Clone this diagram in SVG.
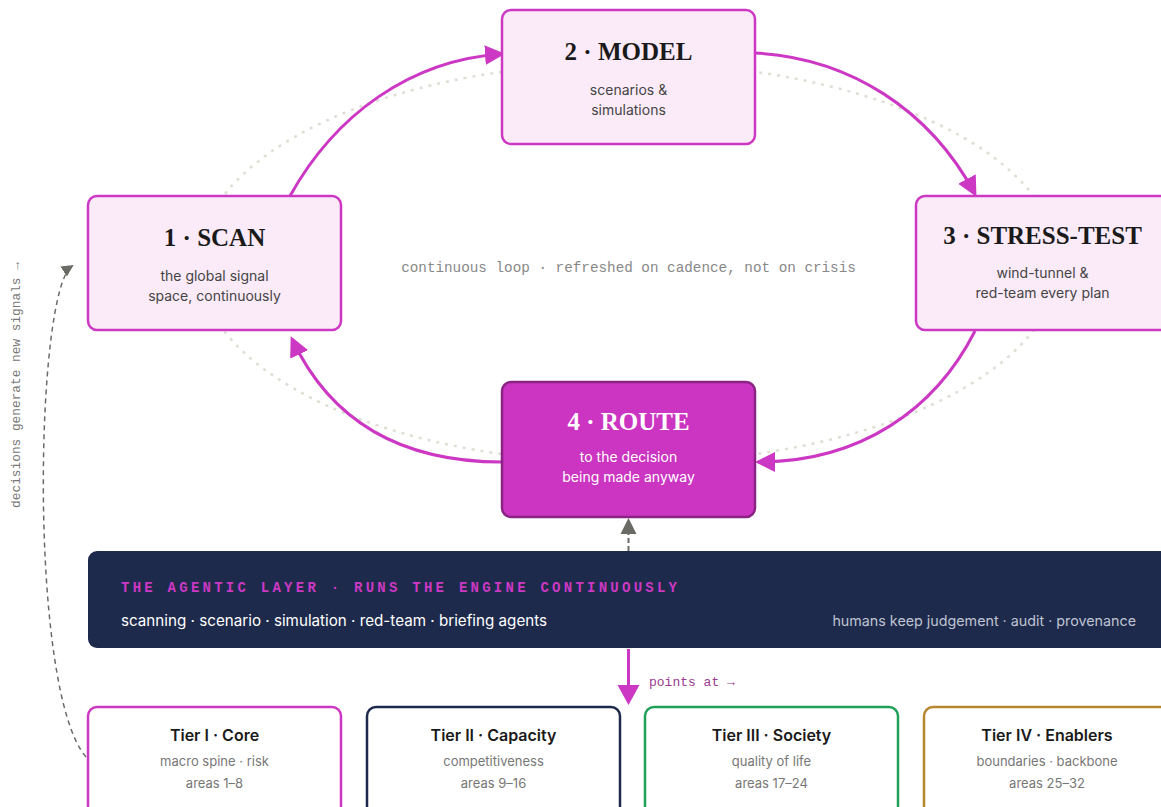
<svg xmlns="http://www.w3.org/2000/svg" width="1161" height="807" viewBox="0 0 1161 807">
<style>
.box{fill:#fbebf8;stroke:#cc38c4;stroke-width:2.5}
.ttl{font-family:"Liberation Serif","DejaVu Serif",serif;font-weight:bold;font-size:25px;fill:#1a1a1a;text-anchor:middle}
.sub{font-family:Inter,"Liberation Sans",sans-serif;font-size:14px;fill:#444;text-anchor:middle}
.tier{fill:#fff;stroke-width:2.5}
.tt{font-family:Inter,"Liberation Sans",sans-serif;font-weight:600;font-size:16px;fill:#1a1a1a;text-anchor:middle}
.ts{font-family:Inter,"Liberation Sans",sans-serif;font-size:13px;fill:#777;text-anchor:middle}
.mono{font-family:"Liberation Mono","DejaVu Sans Mono",monospace}
.arc{fill:none;stroke:#cc38c4;stroke-width:3}
</style>
<defs>
<marker id="ah" markerUnits="userSpaceOnUse" markerWidth="22" markerHeight="22" refX="17" refY="10" orient="auto" viewBox="0 0 22 22"><path d="M0,0 L20,10 L0,20 z" fill="#cc38c4"/></marker>
<marker id="ahg" markerUnits="userSpaceOnUse" markerWidth="14" markerHeight="14" refX="10" refY="6" orient="auto" viewBox="0 0 14 14"><path d="M0,0 L12,6 L0,12 z" fill="#6b6b66"/></marker>
</defs>
<ellipse cx="628.5" cy="263" rx="430" ry="200" fill="none" stroke="#e0ddd5" stroke-width="2.5" stroke-dasharray="3 6"/>
<g id="connectors">
<path class="arc" d="M290,196 C335,115 410,60 502,54" marker-end="url(#ah)"/>
<path class="arc" d="M755,53 C850,58 930,110 975,194" marker-end="url(#ah)"/>
<path class="arc" d="M975,331 C935,410 860,462 758,462" marker-end="url(#ah)"/>
<path class="arc" d="M502,462 C400,462 330,420 292,339" marker-end="url(#ah)"/>
<path d="M86,757 C28,690 35,290 72,266" fill="none" stroke="#6b6b66" stroke-width="1.5" stroke-dasharray="5 4" marker-end="url(#ahg)"/>
<line x1="628.5" y1="551" x2="628.5" y2="534" stroke="#6b6b66" stroke-width="2" stroke-dasharray="5 3"/>
<path d="M620.5,534 L628.5,518 L636.5,534 z" fill="#6b6b66"/>
<line x1="628.5" y1="649" x2="628.5" y2="688" stroke="#cc38c4" stroke-width="3"/>
<path d="M617.5,685 L628.5,705 L639.5,685 z" fill="#cc38c4"/>
</g>
<text class="mono" x="20" y="385" transform="rotate(-90 20 385)" text-anchor="middle" font-size="12.8" fill="#777">decisions generate new signals →</text>
<text class="mono" x="628.5" y="272" text-anchor="middle" font-size="14.3" fill="#888">continuous loop · refreshed on cadence, not on crisis</text>
<g id="scan">
<rect class="box" x="88" y="196" width="253" height="134" rx="9"/>
<text class="ttl" x="214.5" y="246">1 · SCAN</text>
<text class="sub" x="214.5" y="281">the global signal</text>
<text class="sub" x="214.5" y="301">space, continuously</text>
</g>
<g id="model">
<rect class="box" x="502" y="10" width="253" height="134" rx="9"/>
<text class="ttl" x="628.5" y="60">2 · MODEL</text>
<text class="sub" x="628.5" y="95">scenarios &amp;</text>
<text class="sub" x="628.5" y="115">simulations</text>
</g>
<g id="stress">
<rect class="box" x="916" y="196" width="253" height="134" rx="9"/>
<text class="ttl" x="1042.5" y="244">3 · STRESS-TEST</text>
<text class="sub" x="1042.5" y="278">wind-tunnel &amp;</text>
<text class="sub" x="1042.5" y="298">red-team every plan</text>
</g>
<g id="route">
<rect x="502" y="382" width="253" height="135" rx="9" fill="#cb35c2" stroke="#8a2383" stroke-width="2.5"/>
<text class="ttl" x="628.5" y="430" style="fill:#fff">4 · ROUTE</text>
<text class="sub" x="628.5" y="462" style="fill:#fff">to the decision</text>
<text class="sub" x="628.5" y="482" style="fill:#fff">being made anyway</text>
</g>
<g id="agentic">
<rect x="88" y="551" width="1090" height="97" rx="9" fill="#1e2a4c"/>
<text class="mono" x="121" y="592" font-size="14" font-weight="bold" letter-spacing="3.25" fill="#cc38c4">THE AGENTIC LAYER · RUNS THE ENGINE CONTINUOUSLY</text>
<text x="121" y="626" font-family="Inter,'Liberation Sans',sans-serif" font-size="15.2" fill="#fff">scanning · scenario · simulation · red-team · briefing agents</text>
<text x="1136" y="626" text-anchor="end" font-family="Inter,'Liberation Sans',sans-serif" font-size="14.3" fill="#bfc3d2">humans keep judgement · audit · provenance</text>
</g>
<text class="mono" x="649" y="686" font-size="13" fill="#9b3a90">points at →</text>
<g id="tier1">
<rect class="tier" x="88" y="707" width="253" height="120" rx="9" stroke="#cc38c4"/>
<text class="tt" x="214.5" y="741">Tier I · Core</text>
<text class="ts" x="214.5" y="766">macro spine · risk</text>
<text class="ts" x="214.5" y="788">areas 1–8</text>
</g>
<g id="tier2">
<rect class="tier" x="367" y="707" width="253" height="120" rx="9" stroke="#1e2a4c"/>
<text class="tt" x="493.5" y="741">Tier II · Capacity</text>
<text class="ts" x="493.5" y="766">competitiveness</text>
<text class="ts" x="493.5" y="788">areas 9–16</text>
</g>
<g id="tier3">
<rect class="tier" x="645" y="707" width="253" height="120" rx="9" stroke="#22a05a"/>
<text class="tt" x="771.5" y="741">Tier III · Society</text>
<text class="ts" x="771.5" y="766">quality of life</text>
<text class="ts" x="771.5" y="788">areas 17–24</text>
</g>
<g id="tier4">
<rect class="tier" x="924" y="707" width="253" height="120" rx="9" stroke="#b8862e"/>
<text class="tt" x="1047" y="741">Tier IV · Enablers</text>
<text class="ts" x="1047" y="766">boundaries · backbone</text>
<text class="ts" x="1047" y="788">areas 25–32</text>
</g>
</svg>
